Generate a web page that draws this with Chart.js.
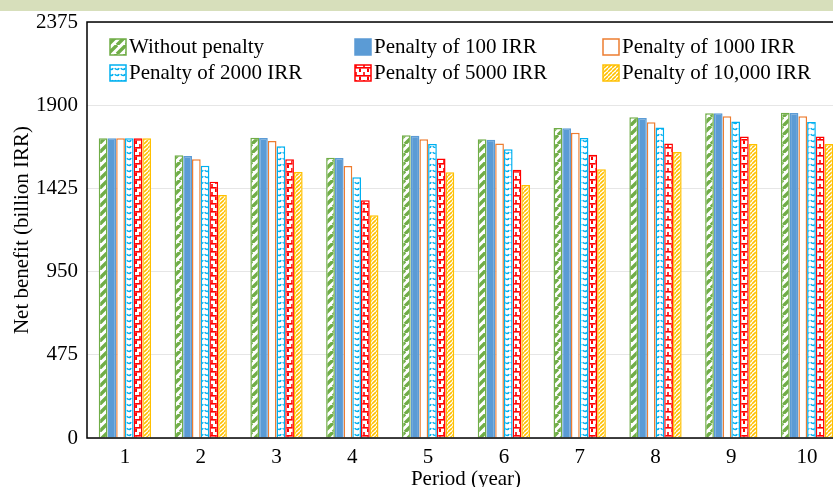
<!DOCTYPE html>
<html><head><meta charset="utf-8">
<script src="https://cdn.jsdelivr.net/npm/chart.js@4/dist/chart.umd.min.js"></script>
<style>
html,body{margin:0;padding:0;background:#fff;overflow:hidden;width:833px;height:487px}
#wrap{position:absolute;left:0;top:0;width:855px;height:497px}
</style></head>
<body><div id="wrap"><canvas id="c" width="855" height="497"></canvas></div>
<script>
const categories = ['1','2','3','4','5','6','7','8','9','10'];
const seriesNames = ['Without penalty','Penalty of 100 IRR','Penalty of 1000 IRR','Penalty of 2000 IRR','Penalty of 5000 IRR','Penalty of 10,000 IRR'];
const withoutPenalty = [1711,1614,1714,1600,1728,1705,1770,1831,1854,1857];
const penalty100     = [1711,1610,1713,1599,1726,1703,1768,1827,1854,1855];
const penalty1000    = [1711,1591,1696,1553,1705,1682,1743,1802,1837,1837];
const penalty2000    = [1711,1555,1665,1488,1678,1648,1713,1772,1807,1804];
const penalty5000    = [1711,1463,1591,1357,1595,1532,1617,1682,1722,1722];
const penalty10000   = [1711,1387,1519,1271,1517,1444,1534,1633,1678,1678];
const yTicks = [0,475,950,1425,1900,2375];

const FONT = '"Liberation Serif","Times New Roman",serif';

function mk(w,h,draw){const c=document.createElement('canvas');c.width=w;c.height=h;const x=c.getContext('2d');x.fillStyle='#fff';x.fillRect(0,0,w,h);draw(x);return x.createPattern(c,'repeat');}
const pGreen = mk(9,9,x=>{x.strokeStyle='#70ad47';x.lineWidth=3.4;x.beginPath();for(let k=-9;k<=18;k+=9){x.moveTo(k,9);x.lineTo(k+9,0);}x.stroke();});
const pYellow = mk(4,4,x=>{x.strokeStyle='#ffc000';x.lineWidth=1.6;x.beginPath();for(let k=-4;k<=8;k+=4){x.moveTo(k,4);x.lineTo(k+4,0);}x.stroke();});
const pCyan = mk(6,6,x=>{x.strokeStyle='#00b0f0';x.lineWidth=1.5;x.beginPath();x.arc(3,1,2.4,0.15*Math.PI,0.85*Math.PI);x.stroke();});
const pRed = mk(8,8,x=>{x.fillStyle='#ff0000';x.fillRect(0,3,8,1.6);x.fillRect(3.2,0,1.6,3);x.fillRect(0,4.5,1,3.5);x.fillRect(7,4.5,1,3.5);});

const colors = ['#70ad47','#5b9bd5','#ed7d31','#00b0f0','#ff0000','#ffc000'];
const fills = [pGreen,'#5b9bd5','#ffffff',pCyan,pRed,pYellow];
const values = [withoutPenalty,penalty100,penalty1000,penalty2000,penalty5000,penalty10000];

const datasets = seriesNames.map((n,i)=>({label:n,data:values[i],backgroundColor:fills[i],borderColor:colors[i],borderWidth:1.5,borderSkipped:'bottom',categoryPercentage:0.69,barPercentage:1}));

const bandPlugin={id:'band',beforeDraw(ch){const c=ch.ctx;c.save();c.fillStyle='#d7dfbb';c.fillRect(0,0,ch.width,11);c.restore();},
afterDraw(ch){const c=ch.ctx;const a=ch.chartArea;c.save();
c.strokeStyle='#000';c.lineWidth=1.5;c.strokeRect(a.left,a.top,a.right-a.left,a.bottom-a.top);
const cols=[110,355,603];const rows=[46,72];
c.font='21px '+FONT;c.textBaseline='middle';c.textAlign='left';
ch.data.datasets.forEach((d,i)=>{const cx=cols[i%3],cy=rows[Math.floor(i/3)];
c.fillStyle=d.backgroundColor;c.fillRect(cx,cy-7,16,16);c.strokeStyle=d.borderColor;c.lineWidth=1.5;c.strokeRect(cx,cy-7,16,16);
c.fillStyle='#000';c.fillText(d.label,cx+19,cy+1);});
c.restore();}};

new Chart(document.getElementById('c'),{type:'bar',data:{labels:categories,datasets},
options:{responsive:false,animation:false,devicePixelRatio:1,
layout:{padding:{top:22,right:10,left:0,bottom:0}},
plugins:{legend:{display:false},tooltip:{enabled:false}},
scales:{
x:{grid:{display:false,drawTicks:false},border:{display:false},
ticks:{color:'#000',font:{family:FONT,size:21},padding:7},
title:{display:true,text:'Period (year)',color:'#000',font:{family:FONT,size:21},padding:{top:0,bottom:5}},
afterFit(s){s.height=59;}},
y:{min:0,max:2375,afterBuildTicks(s){s.ticks=yTicks.map(v=>({value:v}));},
grid:{color:'#e6e6e6',drawTicks:false},border:{display:false},
ticks:{color:'#000',font:{family:FONT,size:21},padding:9,callback:v=>String(v)},
title:{display:true,text:'Net benefit (billion IRR)',color:'#000',font:{family:FONT,size:21},padding:{top:10,bottom:0}},
afterFit(s){s.width=87;}}
}},plugins:[bandPlugin]});
</script></body></html>
